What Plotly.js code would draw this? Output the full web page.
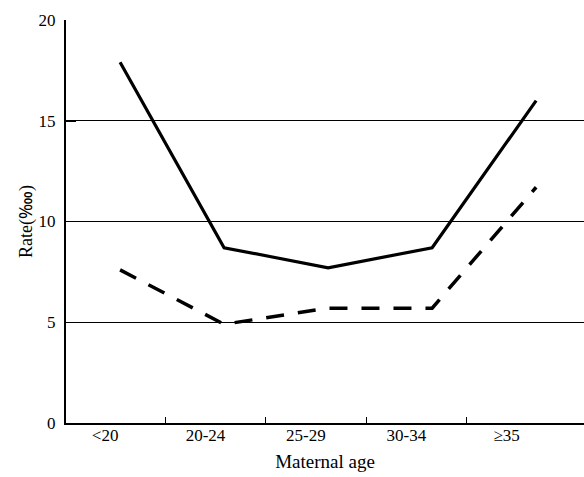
<!DOCTYPE html>
<html>
<head>
<meta charset="utf-8">
<script src="https://cdn.plot.ly/plotly-3.0.1.min.js"></script>
<style>html,body{margin:0;padding:0;background:#fff;}#chart{width:584px;height:477px;}</style>
</head>
<body>
<div id="chart"></div>
<script>
var categories = ["<20", "20-24", "25-29", "30-34", "≥35"];
var solidSeries = [17.9, 8.7, 7.7, 8.7, 16.0];
var dashedSeries = [7.6, 4.9, 5.7, 5.7, 11.7];
var yTicks = [0, 5, 10, 15, 20];
var gridValues = [5, 10, 15];
var xTickMarks = [0.6, 1.6, 2.6, 3.6];

var font = {family: "Liberation Serif, Times New Roman, serif", color: "#000", size: 16};

var traces = [
  {x: categories, y: solidSeries, type: "scatter", mode: "lines",
   line: {color: "#000", width: 3.2}, showlegend: false, hoverinfo: "skip"},
  {x: categories, y: dashedSeries, type: "scatter", mode: "lines",
   line: {color: "#000", width: 3.5, dash: "18px,14px"}, showlegend: false, hoverinfo: "skip"}
];

var idx = categories.map(function(c, i){ return i; });

var layout = {
  width: 584, height: 477,
  margin: {l: 66, r: 0, t: 20, b: 54},
  paper_bgcolor: "#fff", plot_bgcolor: "#fff",
  font: font,
  showlegend: false,
  xaxis: {
    type: "category",
    range: [-0.52, 4.46],
    showticklabels: false, ticks: "",
    showgrid: false, zeroline: false,
    showline: true, linecolor: "#000", linewidth: 1.5
  },
  xaxis2: {
    overlaying: "x",
    type: "linear",
    range: [-0.39, 4.77],
    tickmode: "array", tickvals: idx, ticktext: categories,
    ticks: "", ticklen: 0,
    minor: {tickmode: "array", tickvals: xTickMarks, ticks: "inside", ticklen: 6, tickcolor: "#000", tickwidth: 1},
    showgrid: false, zeroline: false, showline: false,
    tickfont: {size: 17},
    title: {text: "Maternal age", font: {size: 19}, standoff: 10}
  },
  yaxis: {
    range: [0, 20],
    tickmode: "array", tickvals: yTicks,
    ticks: "inside", ticklen: 10, tickcolor: "#000", tickwidth: 1.5,
    showgrid: false,
    minor: {tickmode: "array", tickvals: gridValues, showgrid: true, gridcolor: "#000", gridwidth: 1.2, ticks: ""},
    zeroline: false,
    showline: true, linecolor: "#000", linewidth: 2,
    tickfont: {size: 17},
    ticklabelstandoff: 5,
    title: {text: "Rate(‱)", font: {size: 18}, standoff: 1}
  }
};

traces.push({x: [0], y: [0], xaxis: "x2", type: "scatter", mode: "markers",
  marker: {opacity: 0}, showlegend: false, hoverinfo: "skip"});

Plotly.newPlot("chart", traces, layout, {displayModeBar: false, staticPlot: true});
</script>
</body>
</html>
